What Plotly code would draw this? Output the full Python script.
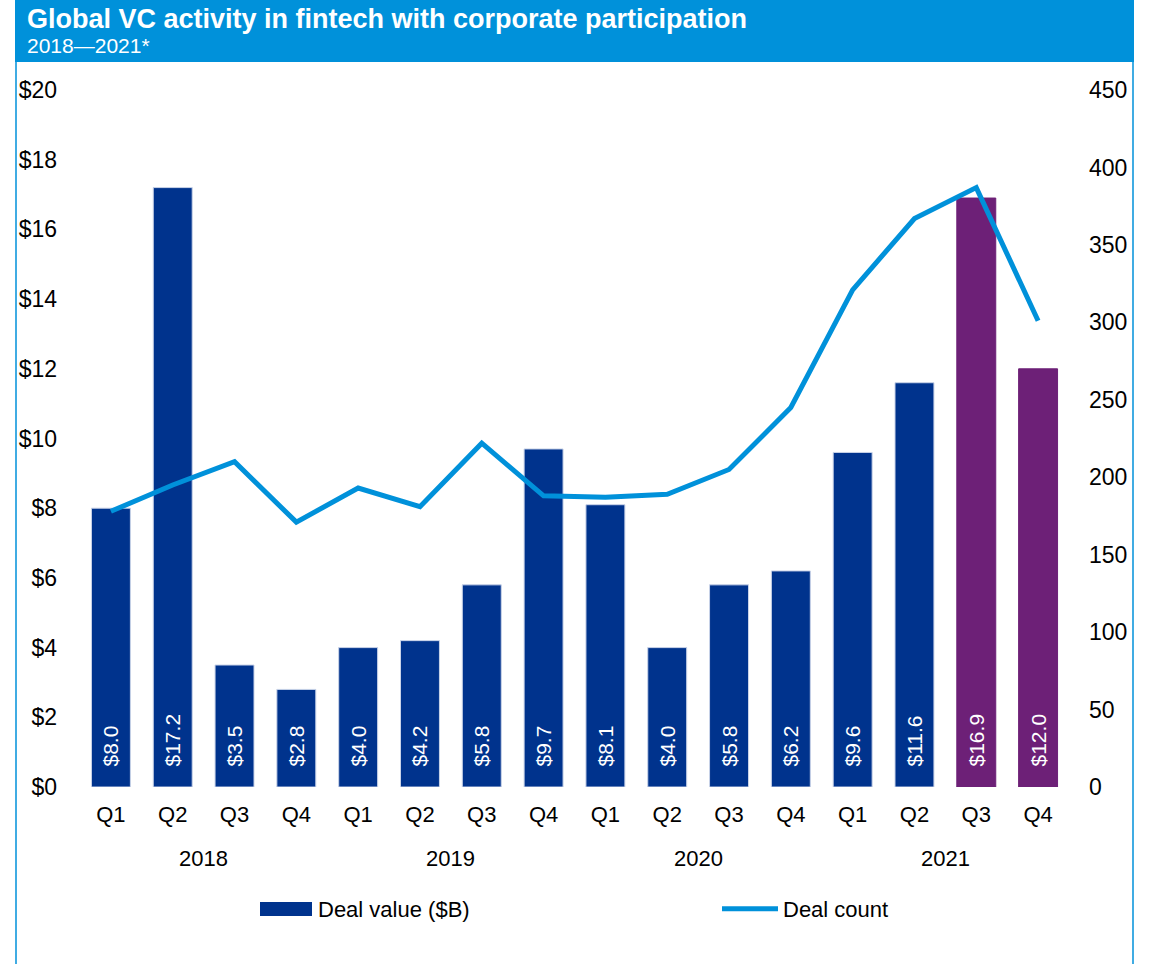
import plotly.graph_objects as go

quarters = ["Q1", "Q2", "Q3", "Q4"] * 4
years = ["2018", "2019", "2020", "2021"]
deal_value = [8.0, 17.2, 3.5, 2.8, 4.0, 4.2, 5.8, 9.7, 8.1, 4.0, 5.8, 6.2, 9.6, 11.6, 16.9, 12.0]
deal_count = [178, 195, 210, 171, 193, 181, 222, 188, 187, 189, 205, 245, 321, 367, 387, 301]
value_labels = ["$8.0", "$17.2", "$3.5", "$2.8", "$4.0", "$4.2", "$5.8", "$9.7",
                "$8.1", "$4.0", "$5.8", "$6.2", "$9.6", "$11.6", "$16.9", "$12.0"]

W, H = 1150, 964
L, R, T, B = 80, 81, 90, 177
PW, PH = W - L - R, H - T - B

def px(x):
    return (x - L) / PW

def py(y):
    return (H - B - y) / PH

BLUE = "#00338D"
PURPLE = "#6D2077"
LIGHT = "#0091DA"
FONT = "Liberation Sans, Arial, sans-serif"

xs = list(range(len(deal_value)))
bar_colors = [BLUE] * 14 + [PURPLE] * 2
line_colors = ["#c9d3e8"] * 14 + [PURPLE] * 2

fig = go.Figure()
fig.add_trace(go.Bar(
    x=xs, y=deal_value, name="Deal value ($B)", showlegend=False,
    marker=dict(color=bar_colors, line=dict(color=line_colors, width=1)),
    text=["\u00a0\u00a0\u00a0" + t for t in value_labels],
    textposition="inside", insidetextanchor="start", textangle=-90,
    textfont=dict(color="white", size=21, family=FONT),
    constraintext="none", cliponaxis=False,
    hoverinfo="skip",
))
# legend entry for the bar series (plain swatch, no outline)
fig.add_trace(go.Bar(
    x=[None], y=[None], name="Deal value ($B)", legend="legend",
    marker=dict(color=BLUE, line=dict(width=0)), hoverinfo="skip",
))
fig.add_trace(go.Scatter(
    x=xs, y=deal_count, name="Deal count", yaxis="y2", legend="legend2",
    mode="lines", line=dict(color=LIGHT, width=5),
    hoverinfo="skip",
))

shapes = [
    dict(type="rect", xref="paper", yref="paper", x0=px(15), x1=px(1134), y0=py(62), y1=py(0),
         fillcolor=LIGHT, line=dict(width=0), layer="below"),
    dict(type="line", xref="paper", yref="paper", x0=px(16), x1=px(16), y0=py(62), y1=py(964),
         line=dict(color=LIGHT, width=1.5)),
    dict(type="line", xref="paper", yref="paper", x0=px(1133), x1=px(1133), y0=py(62), y1=py(964),
         line=dict(color=LIGHT, width=1.5)),
    # wide legend swatch for the bar series (as in the original legend)
    dict(type="rect", xref="paper", yref="paper", x0=px(260), x1=px(312), y0=py(916), y1=py(902),
         fillcolor=BLUE, line=dict(width=0), layer="above"),
]

annotations = [
    dict(text="<b>Global VC activity in fintech with corporate participation</b>", xref="paper", yref="paper",
         x=px(25), y=py(19), xanchor="left", yanchor="middle", showarrow=False,
         font=dict(color="white", size=27, family=FONT)),
    dict(text="2018\u20142021*", xref="paper", yref="paper",
         x=px(25), y=py(46), xanchor="left", yanchor="middle", showarrow=False,
         font=dict(color="white", size=21, family=FONT)),
]
for i, yr in enumerate(years):
    annotations.append(dict(text=yr, xref="x", yref="paper", x=4 * i + 1.5, y=py(858),
                            xanchor="center", yanchor="middle", showarrow=False,
                            font=dict(color="black", size=22, family=FONT)))

legend_common = dict(orientation="h", yanchor="middle", xanchor="left", itemwidth=56,
                     font=dict(size=22, family=FONT, color="black"), bgcolor="rgba(0,0,0,0)")

fig.update_layout(
    width=W, height=H,
    margin=dict(l=L, r=R, t=T, b=B, pad=0),
    paper_bgcolor="white", plot_bgcolor="white",
    font=dict(family=FONT, size=22, color="black"),
    bargap=0.37,
    barmode="overlay",
    showlegend=True,
    legend=dict(x=px(252), y=py(909), **legend_common),
    legend2=dict(x=px(717), y=py(909), **legend_common),
    xaxis=dict(tickmode="array", tickvals=xs, ticktext=quarters, range=[-0.5, 15.5],
               showgrid=False, zeroline=False, showline=False, ticks="",
               ticklabelstandoff=12, tickfont=dict(size=22)),
    yaxis=dict(range=[0, 20], dtick=2, tickprefix="$", showgrid=False, zeroline=False,
               showline=False, ticks="", ticklabelstandoff=22, tickfont=dict(size=23)),
    yaxis2=dict(range=[0, 450], dtick=50, overlaying="y", side="right", showgrid=False,
                zeroline=False, showline=False, ticks="", ticklabelstandoff=19,
                tickfont=dict(size=23)),
    shapes=shapes,
    annotations=annotations,
)

fig.write_html("out.html", config={"displayModeBar": False},
               post_script="document.body.style.margin='0px';")
